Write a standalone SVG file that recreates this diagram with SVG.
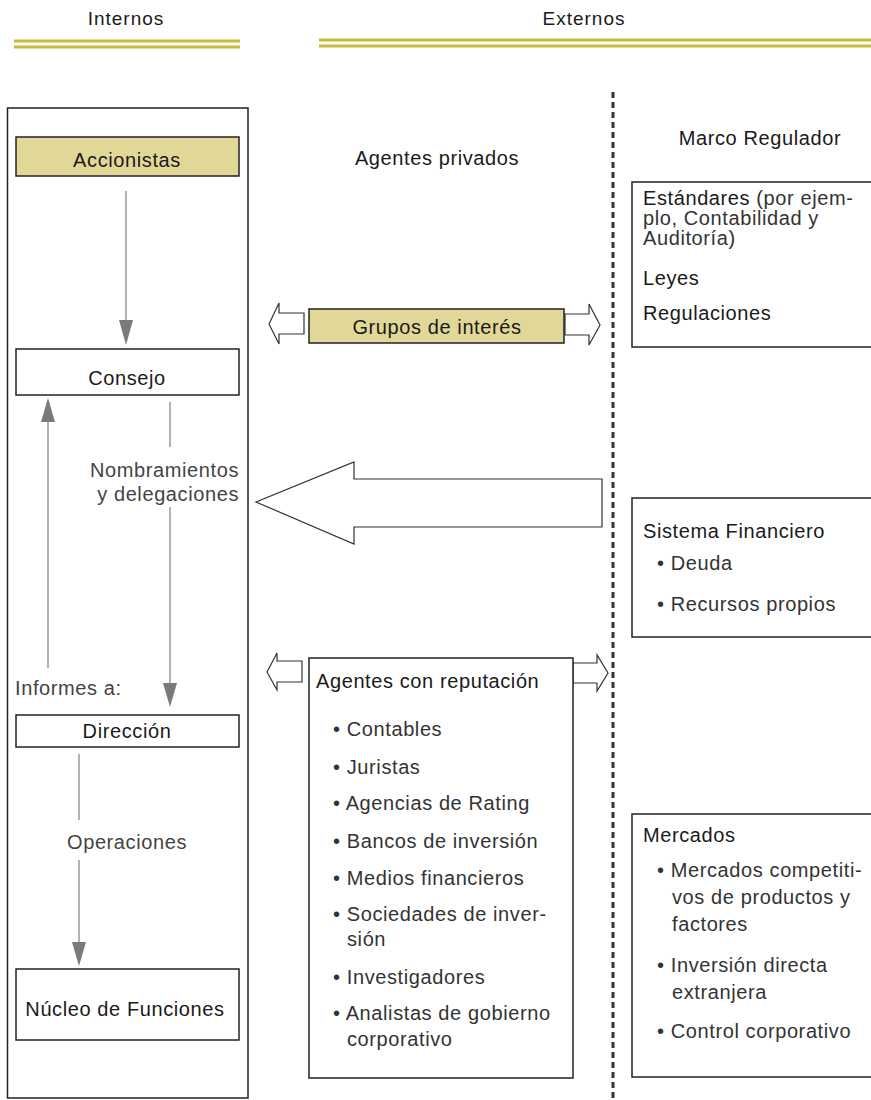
<svg xmlns="http://www.w3.org/2000/svg" width="871" height="1100" viewBox="0 0 871 1100">
<style>
text{font-family:"Liberation Sans",Arial,sans-serif;font-size:20px;letter-spacing:0.6px;fill:#1a1a1a}
.h{font-size:19px;letter-spacing:1px}
.b{fill:#333}
.g{fill:#444}
.box{fill:#fff;stroke:#222;stroke-width:1.5}
.kh{fill:#e1d898;stroke:#222;stroke-width:1.5}
.ln{stroke:#9a9a9a;stroke-width:1.5;fill:none}
.hd{fill:#7a7a7a}
.ho{fill:#fff;stroke:#333;stroke-width:1.2}
.gold{stroke:#c9b83c;stroke-width:3}
.c{text-anchor:middle}
</style>
<g id="headers">
<text class="h c" x="126" y="25">Internos</text>
<text class="h c" x="584" y="25">Externos</text>
<line class="gold" x1="14" y1="41" x2="240" y2="41"/>
<line class="gold" x1="14" y1="47" x2="240" y2="47"/>
<line class="gold" x1="319" y1="40" x2="871" y2="40"/>
<line class="gold" x1="319" y1="46" x2="871" y2="46"/>
</g>
<g id="internos-frame"><rect x="7.5" y="108" width="240.5" height="990" fill="none" stroke="#222" stroke-width="1.5"/></g>
<g id="divider"><line x1="613" y1="92" x2="613" y2="1100" stroke="#333" stroke-width="3" stroke-dasharray="6 4"/></g>
<g id="accionistas"><rect class="kh" x="16" y="137" width="223" height="39"/><text class="c" x="127" y="167">Accionistas</text></g>
<g id="consejo"><rect class="box" x="16" y="349" width="223" height="46"/><text class="c" x="127" y="385">Consejo</text></g>
<g id="direccion"><rect class="box" x="16" y="715" width="223" height="32"/><text class="c" x="127" y="738">Dirección</text></g>
<g id="nucleo"><rect class="box" x="16" y="969" width="223" height="71"/><text class="c" x="125" y="1016">Núcleo de Funciones</text></g>
<g id="connectors">
<line class="ln" x1="126" y1="191" x2="126" y2="322"/>
<polygon class="hd" points="119,320 133,320 126,345"/>
<line class="ln" x1="48" y1="420" x2="48" y2="668"/>
<polygon class="hd" points="41,422 55,422 48,398"/>
<line class="ln" x1="170" y1="402" x2="170" y2="447"/>
<line class="ln" x1="170" y1="507" x2="170" y2="685"/>
<polygon class="hd" points="163,683 177,683 170,707"/>
<line class="ln" x1="79" y1="754" x2="79" y2="820"/>
<line class="ln" x1="79" y1="860" x2="79" y2="944"/>
<polygon class="hd" points="72,942 86,942 79,966"/>
<polygon class="ho" points="304,313 279,313 279,303 269,324 279,344 279,334 304,334"/>
<polygon class="ho" points="565,314 589,314 589,304 600,325 589,345 589,335 565,335"/>
<polygon class="ho" points="602,479 354,479 354,462 256,502 354,544 354,527 602,527"/>
<polygon class="ho" points="302,661 277,661 277,653 267,672 277,690 277,682 302,682"/>
<polygon class="ho" points="573,663 597,663 597,655 608,673 597,691 597,683 573,683"/>
</g>
<g id="labels">
<text class="g" x="239" y="477" text-anchor="end">Nombramientos</text>
<text class="g" x="239" y="501" text-anchor="end">y delegaciones</text>
<text class="g" x="15" y="695">Informes a:</text>
<text class="g c" x="127" y="849">Operaciones</text>
<text class="c" x="437" y="165">Agentes privados</text>
<text class="c" x="760" y="145">Marco Regulador</text>
</g>
<g id="grupos"><rect class="kh" x="309" y="309" width="255" height="34"/><text class="c" x="437" y="334">Grupos de interés</text></g>
<g id="agentes">
<rect class="box" x="309" y="658" width="264" height="420"/>
<text x="316" y="688">Agentes con reputación</text>
<text class="b" x="333" y="736">• Contables</text>
<text class="b" x="333" y="774">• Juristas</text>
<text class="b" x="333" y="810">• Agencias de Rating</text>
<text class="b" x="333" y="848">• Bancos de inversión</text>
<text class="b" x="333" y="885">• Medios financieros</text>
<text class="b" x="333" y="921">• Sociedades de inver-</text>
<text class="b" x="347" y="946">sión</text>
<text class="b" x="333" y="984">• Investigadores</text>
<text class="b" x="333" y="1020">• Analistas de gobierno</text>
<text class="b" x="347" y="1046">corporativo</text>
</g>
<g id="marco">
<rect class="box" x="632" y="182" width="250" height="165"/>
<text x="643" y="205">Estándares <tspan class="b">(por ejem-</tspan></text>
<text class="b" x="643" y="225">plo, Contabilidad y</text>
<text class="b" x="643" y="245">Auditoría)</text>
<text x="643" y="285">Leyes</text>
<text x="643" y="320">Regulaciones</text>
</g>
<g id="sistema">
<rect class="box" x="632" y="498" width="250" height="139"/>
<text x="643" y="538">Sistema Financiero</text>
<text class="b" x="657" y="570">• Deuda</text>
<text class="b" x="657" y="611">• Recursos propios</text>
</g>
<g id="mercados">
<rect class="box" x="632" y="814" width="250" height="263"/>
<text x="643" y="842">Mercados</text>
<text class="b" x="657" y="877">• Mercados competiti-</text>
<text class="b" x="672" y="904">vos de productos y</text>
<text class="b" x="672" y="931">factores</text>
<text class="b" x="657" y="972">• Inversión directa</text>
<text class="b" x="672" y="999">extranjera</text>
<text class="b" x="657" y="1038">• Control corporativo</text>
</g>
</svg>
